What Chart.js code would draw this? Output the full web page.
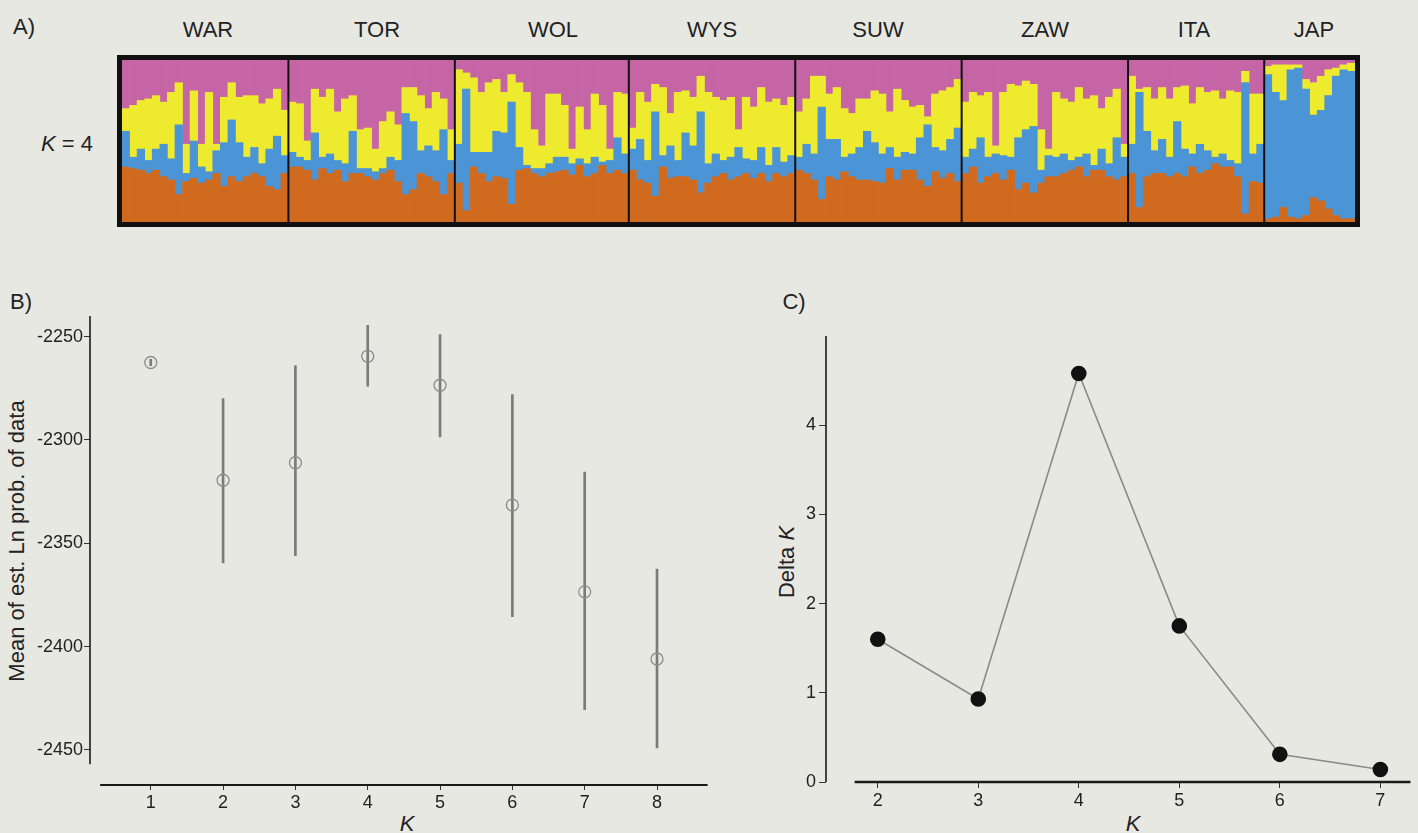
<!DOCTYPE html>
<html>
<head>
<meta charset="utf-8">
<script src="https://cdn.jsdelivr.net/npm/chart.js@4"></script>
<style>
	body { margin: 0; background: #e8e8e3; font-family: 'Liberation Sans', Arial, sans-serif; color: #222; }
	#page { position: relative; width: 1418px; height: 833px; overflow: hidden; }
	.abs { position: absolute; }
	.txt { position: absolute; transform: translate(-50%, -50%); white-space: nowrap; font-size: 22px; }
	.rot { transform: translate(-50%, -50%) rotate(-90deg); }
	#frameA { left: 117px; top: 55px; width: 1243px; height: 172px; border: 5px solid #111; box-sizing: border-box; }
</style>
</head>
<body>
<div id="page">
	<div class="txt" style="left:24px;top:27px">A)</div>
	<div class="txt" style="left:208px;top:30px">WAR</div>
	<div class="txt" style="left:377px;top:30px">TOR</div>
	<div class="txt" style="left:553px;top:30px">WOL</div>
	<div class="txt" style="left:712px;top:30px">WYS</div>
	<div class="txt" style="left:878px;top:30px">SUW</div>
	<div class="txt" style="left:1045px;top:30px">ZAW</div>
	<div class="txt" style="left:1194px;top:30px">ITA</div>
	<div class="txt" style="left:1314px;top:30px">JAP</div>
	<div class="txt" style="left:67px;top:144px"><i>K</i> = 4</div>

	<div id="frameA" class="abs"></div>
	<canvas id="chart-a" class="abs" width="1233" height="162" style="left:122px;top:60px"></canvas>

	<div class="txt" style="left:21px;top:302px">B)</div>
	<div class="txt rot" style="left:17px;top:541px">Mean of est. Ln prob. of data</div>
	<div class="txt" style="left:407px;top:824px"><i>K</i></div>
	<canvas id="chart-b" class="abs" width="720" height="553" style="left:0px;top:280px"></canvas>

	<div class="txt" style="left:794px;top:302px">C)</div>
	<div class="txt rot" style="left:787px;top:562px">Delta <i>K</i></div>
	<div class="txt" style="left:1133px;top:824px"><i>K</i></div>
	<canvas id="chart-c" class="abs" width="658" height="553" style="left:760px;top:280px"></canvas>
</div>
<script>
/* ----- Data ----- */

// Panel A: populations and membership (%) of each individual in the 4 clusters
const popNames = ['WAR', 'TOR', 'WOL', 'WYS', 'SUW', 'ZAW', 'ITA', 'JAP'];
const popSizes = [22, 22, 23, 22, 22, 22, 18, 12];

const qOrange = [
	34, 33, 32, 30, 32, 28, 26, 17, 25, 27, 24, 26, 30, 22, 28, 25, 28, 30, 28, 22, 20, 30,
	34, 34, 32, 26, 33, 30, 32, 25, 30, 30, 28, 26, 30, 32, 25, 17, 20, 30, 28, 25, 17, 30,
	24, 7, 34, 30, 25, 28, 27, 11, 32, 33, 30, 28, 30, 31, 32, 29, 35, 28, 30, 35, 30, 32, 30,
	32, 26, 24, 16, 34, 27, 28, 28, 26, 18, 24, 28, 30, 26, 28, 30, 27, 30, 25, 30, 28, 30,
	32, 30, 26, 14, 28, 26, 31, 28, 26, 26, 25, 24, 33, 26, 32, 32, 26, 22, 31, 27, 30, 25,
	30, 34, 24, 28, 30, 26, 32, 20, 24, 18, 24, 28, 28, 30, 32, 34, 28, 32, 32, 28, 26, 28,
	30, 9, 28, 30, 30, 28, 30, 28, 34, 30, 32, 36, 34, 34, 28, 5, 25, 24,
	2, 3, 9, 3, 2, 4, 15, 13, 8, 4, 2, 2
];
const qBlue = [
	22, 7, 13, 8, 13, 20, 13, 43, 5, 23, 10, 5, 14, 27, 35, 24, 12, 16, 8, 23, 33, 11,
	9, 6, 6, 29, 7, 12, 6, 11, 26, 3, 5, 5, 3, 8, 13, 50, 42, 14, 19, 19, 40, 8,
	24, 75, 9, 13, 18, 28, 28, 63, 14, 2, 3, 5, 6, 9, 8, 7, 4, 8, 10, 2, 8, 20, 12,
	13, 25, 14, 52, 7, 20, 10, 27, 21, 50, 12, 14, 8, 14, 18, 9, 11, 16, 10, 16, 9, 11,
	8, 18, 16, 57, 23, 25, 9, 14, 20, 30, 24, 18, 13, 14, 11, 10, 26, 38, 15, 17, 21, 33,
	10, 11, 28, 12, 12, 15, 8, 32, 33, 41, 8, 13, 12, 12, 6, 6, 14, 3, 13, 8, 26, 12,
	18, 71, 28, 14, 21, 12, 32, 17, 8, 18, 12, 4, 8, 4, 8, 81, 17, 24,
	89, 77, 66, 91, 93, 78, 51, 56, 70, 86, 92, 91
];
const qYellow = [
	14, 32, 30, 38, 33, 26, 41, 26, 18, 31, 14, 49, 4, 28, 23, 28, 38, 32, 37, 31, 29, 28,
	31, 33, 12, 27, 37, 40, 30, 40, 22, 24, 25, 14, 29, 28, 22, 16, 21, 34, 23, 36, 19, 19,
	46, 10, 46, 37, 43, 32, 25, 17, 40, 45, 24, 14, 43, 39, 32, 9, 32, 21, 39, 35, 7, 28, 37,
	13, 29, 36, 17, 42, 20, 42, 26, 30, 22, 44, 35, 37, 37, 11, 38, 33, 37, 39, 30, 35, 36,
	28, 28, 48, 19, 28, 32, 30, 25, 30, 20, 32, 37, 22, 42, 32, 29, 20, 5, 33, 37, 32, 30,
	34, 35, 26, 40, 5, 39, 45, 32, 30, 26, 25, 4, 40, 34, 36, 43, 34, 43, 25, 41, 30, 8,
	42, 2, 27, 32, 32, 36, 21, 39, 31, 35, 36, 41, 34, 43, 44, 7, 37, 31,
	5, 17, 22, 3, 2, 6, 20, 21, 16, 5, 3, 5
];
const qPink = [
	30, 28, 25, 24, 22, 26, 20, 14, 52, 19, 52, 20, 52, 23, 14, 23, 22, 22, 27, 24, 18, 31,
	26, 27, 50, 18, 23, 18, 32, 24, 22, 43, 42, 55, 38, 32, 40, 17, 17, 22, 30, 20, 24, 43,
	6, 8, 11, 20, 14, 12, 20, 9, 14, 20, 43, 53, 21, 21, 28, 55, 29, 43, 21, 28, 55, 20, 21,
	42, 20, 26, 15, 17, 33, 20, 19, 23, 10, 20, 23, 25, 23, 43, 23, 29, 17, 26, 24, 28, 23,
	32, 24, 10, 10, 21, 17, 30, 33, 24, 24, 19, 21, 32, 18, 25, 29, 28, 35, 21, 19, 17, 12,
	26, 20, 22, 20, 53, 20, 15, 16, 13, 15, 43, 55, 20, 24, 26, 17, 24, 22, 30, 23, 18, 52,
	10, 18, 17, 24, 17, 24, 17, 16, 27, 17, 20, 19, 24, 19, 20, 7, 21, 21,
	4, 3, 3, 3, 3, 12, 14, 10, 6, 5, 3, 2
];

// Panel B: mean of estimated Ln probability of data, with its range
const kB = [1, 2, 3, 4, 5, 6, 7, 8];
const meanLnP = [-2262.5, -2319.5, -2311, -2259.5, -2273.5, -2331.5, -2373.5, -2406];
const lnPLow = [-2264, -2359.5, -2356, -2274, -2298.5, -2385.5, -2430.5, -2449];
const lnPHigh = [-2261, -2280, -2264, -2244.5, -2249, -2278, -2315.5, -2362.5];
const yTicksB = [-2450, -2400, -2350, -2300, -2250];

// Panel C: Delta K
const kC = [2, 3, 4, 5, 6, 7];
const deltaK = [1.60, 0.93, 4.58, 1.75, 0.31, 0.14];
const yTicksC = [0, 1, 2, 3, 4];

/* ----- Shared ----- */

Chart.defaults.font.family = "'Liberation Sans', Arial, sans-serif";
Chart.defaults.color = '#222';

// Detached axis lines, drawn through the scales
const axisLines = {
	id: 'axisLines',
	afterDraw(chart, args, opts) {
		const {ctx, chartArea, scales: {x, y}} = chart;
		ctx.save();
		ctx.strokeStyle = '#1a1a1a';
		ctx.lineWidth = opts.yWidth;
		ctx.beginPath();
		ctx.moveTo(chartArea.left, y.getPixelForValue(opts.yFrom));
		ctx.lineTo(chartArea.left, y.getPixelForValue(opts.yTo));
		ctx.stroke();
		ctx.lineWidth = opts.xWidth;
		ctx.beginPath();
		ctx.moveTo(x.getPixelForValue(opts.xFrom), chartArea.bottom);
		ctx.lineTo(x.getPixelForValue(opts.xTo), chartArea.bottom);
		ctx.stroke();
		ctx.restore();
	}
};

// Lines between populations in panel A
const popSeparators = {
	id: 'popSeparators',
	afterDatasetsDraw(chart) {
		const {ctx, chartArea, scales: {x}} = chart;
		ctx.save();
		ctx.strokeStyle = '#111';
		ctx.lineWidth = 2;
		let idx = 0;
		popSizes.slice(0, -1).forEach(size => {
			idx += size;
			const px = (x.getPixelForValue(idx - 1) + x.getPixelForValue(idx)) / 2;
			ctx.beginPath();
			ctx.moveTo(px, chartArea.top);
			ctx.lineTo(px, chartArea.bottom);
			ctx.stroke();
		});
		ctx.restore();
	}
};

const tickGrid = len => ({display: true, offset: false, drawOnChartArea: false, drawTicks: true, tickLength: len, color: '#333', lineWidth: 1});
const plainTicks = {font: {size: 18}, callback: v => String(v)};

/* ----- Panel A ----- */

const individuals = popNames.flatMap((name, p) => Array.from({length: popSizes[p]}, (_, i) => name + (i + 1)));

new Chart(document.getElementById('chart-a'), {
	type: 'bar',
	data: {
		labels: individuals,
		datasets: [
			{label: 'Cluster 1', data: qOrange, backgroundColor: '#cf6a1f'},
			{label: 'Cluster 2', data: qBlue, backgroundColor: '#4b94d6'},
			{label: 'Cluster 3', data: qYellow, backgroundColor: '#eeea2e'},
			{label: 'Cluster 4', data: qPink, backgroundColor: '#c665a6'}
		]
	},
	options: {
		responsive: false,
		animation: false,
		events: [],
		datasets: {bar: {barPercentage: 1, categoryPercentage: 1, borderWidth: 0}},
		layout: {padding: 0},
		plugins: {legend: {display: false}, tooltip: {enabled: false}},
		scales: {
			x: {stacked: true, display: false},
			y: {stacked: true, display: false, min: 0, max: 100}
		}
	},
	plugins: [popSeparators]
});

/* ----- Panel B ----- */

new Chart(document.getElementById('chart-b'), {
	type: 'bar',
	data: {
		datasets: [
			{
				type: 'scatter',
				order: 0,
				data: kB.map((k, i) => ({x: k, y: meanLnP[i]})),
				pointRadius: 6,
				pointBorderWidth: 1.3,
				pointBorderColor: '#8c8c8c',
				pointBackgroundColor: 'rgba(0,0,0,0)'
			},
			{
				type: 'bar',
				order: 1,
				data: kB.map((k, i) => ({x: k, y: [lnPLow[i], lnPHigh[i]]})),
				barThickness: 2,
				backgroundColor: '#7b7b7b',
				borderWidth: 0
			}
		]
	},
	options: {
		responsive: false,
		animation: false,
		events: [],
		layout: {padding: {top: 35, right: 5, left: 0, bottom: 0}},
		plugins: {
			legend: {display: false},
			tooltip: {enabled: false},
			axisLines: {yFrom: -2240, yTo: -2457, xFrom: 0.3, xTo: 8.7, yWidth: 1.6, xWidth: 2}
		},
		scales: {
			x: {
				type: 'linear', min: 0.16, max: 8.77, offset: false,
				afterBuildTicks: axis => { axis.ticks = kB.map(v => ({value: v})); },
				afterFit: axis => { axis.height = 48; },
				grid: tickGrid(5),
				border: {display: false},
				ticks: {...plainTicks, padding: 2}
			},
			y: {
				min: -2467, max: -2239.5,
				afterBuildTicks: axis => { axis.ticks = yTicksB.map(v => ({value: v})); },
				afterFit: axis => { axis.width = 90; },
				grid: tickGrid(6),
				border: {display: false},
				ticks: {...plainTicks, padding: 1}
			}
		}
	},
	plugins: [axisLines]
});

/* ----- Panel C ----- */

new Chart(document.getElementById('chart-c'), {
	type: 'line',
	data: {
		datasets: [{
			data: kC.map((k, i) => ({x: k, y: deltaK[i]})),
			borderColor: '#8a8a8a',
			borderWidth: 1.6,
			pointRadius: 7,
			pointBackgroundColor: '#111',
			pointBorderColor: '#111',
			tension: 0
		}]
	},
	options: {
		responsive: false,
		animation: false,
		events: [],
		layout: {padding: {top: 56, right: 0, left: 0, bottom: 0}},
		plugins: {
			legend: {display: false},
			tooltip: {enabled: false},
			axisLines: {yFrom: 0, yTo: 5, xFrom: 1.77, xTo: 7.3, yWidth: 1.6, xWidth: 2.5}
		},
		scales: {
			x: {
				type: 'linear', min: 1.485, max: 7.289, offset: false,
				afterBuildTicks: axis => { axis.ticks = kC.map(v => ({value: v})); },
				afterFit: axis => { axis.height = 51; },
				grid: tickGrid(6),
				border: {display: false},
				ticks: {...plainTicks, padding: 2}
			},
			y: {
				min: 0, max: 5,
				afterBuildTicks: axis => { axis.ticks = yTicksC.map(v => ({value: v})); },
				afterFit: axis => { axis.width = 66; },
				grid: tickGrid(7),
				border: {display: false},
				ticks: {...plainTicks, padding: 3}
			}
		}
	},
	plugins: [axisLines]
});
</script>
</body>
</html>
